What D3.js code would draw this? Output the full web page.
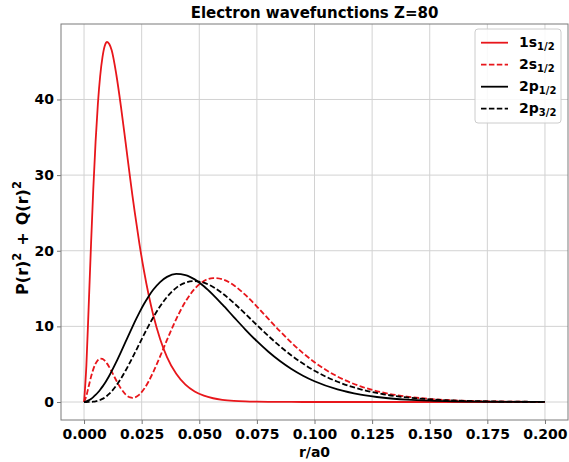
<!DOCTYPE html>
<html>
<head>
<meta charset="utf-8">
<script src="https://cdn.jsdelivr.net/npm/d3@7"></script>
<style>
  html, body { margin: 0; padding: 0; background: #fff; }
  svg { display: block; }
  text { font-family: "DejaVu Sans", sans-serif; font-weight: bold; fill: #000; }
</style>
</head>
<body>
<svg id="chart" width="569" height="462"></svg>
<script>
// r / a0 sample positions
const radius = [0, 0.001, 0.002, 0.003, 0.004, 0.005, 0.006, 0.007, 0.008, 0.009, 0.010, 0.011, 0.012,
  0.014, 0.016, 0.018, 0.020, 0.021, 0.022, 0.024, 0.026, 0.028, 0.030,
  0.033, 0.036, 0.040, 0.044, 0.048, 0.052, 0.056, 0.060,
  0.065, 0.070, 0.075, 0.080, 0.085, 0.090, 0.095, 0.100,
  0.110, 0.120, 0.130, 0.140, 0.150, 0.160, 0.170, 0.180, 0.190, 0.200];

const s1_12 = [0, 4.77, 12.53, 20.6, 28.1, 34.4, 39.4, 43.1, 45.6, 47.1, 47.6, 47.3, 46.5,
  43.3, 39.1, 34.4, 29.6, 27.3, 25.1, 20.98, 17.35, 14.21, 11.54,
  8.34, 5.94, 3.72, 2.29, 1.39, 0.835, 0.496, 0.293,
  0.150, 0.076, 0.038, 0.019, 0.0094, 0.0047, 0.0023, 0.0011,
  0.0003, 0.0001, 0, 0, 0, 0, 0, 0, 0, 0];

const s2_12 = [0, 0.801, 2.054, 3.286, 4.317, 5.074, 5.543, 5.741, 5.699, 5.463, 5.074, 4.577, 4.016,
  2.840, 1.785, 1.012, 0.608, 0.555, 0.603, 0.984, 1.709, 2.717, 3.940,
  6.021, 8.205, 10.963, 13.271, 14.964, 15.992, 16.387, 16.226,
  15.429, 14.161, 12.624, 10.985, 9.367, 7.845, 6.469, 5.264,
  3.363, 2.068, 1.231, 0.714, 0.405, 0.225, 0.123, 0.066, 0.035, 0.019];

const p2_12 = [0, 0.0726, 0.2164, 0.4098, 0.6476, 0.9285, 1.2528, 1.6208, 2.0318, 2.4858, 2.980, 3.5116, 4.0777,
  5.2959, 6.597, 7.940, 9.283, 9.943, 10.588, 11.821, 12.954, 13.964, 14.835,
  15.861, 16.541, 16.932, 16.791, 16.214, 15.309, 14.174, 12.896,
  11.231, 9.585, 8.036, 6.637, 5.409, 4.355, 3.469, 2.737,
  1.660, 0.978, 0.562, 0.3165, 0.1749, 0.0952, 0.0511, 0.0271, 0.0142, 0.0074];

const p2_32 = [0, 0.00025, 0.0033, 0.0145, 0.0401, 0.0869, 0.1613, 0.2686, 0.4133, 0.5988, 0.8271, 1.0995, 1.416,
  2.1758, 3.0907, 4.1333, 5.2709, 5.8643, 6.4683, 7.689, 8.8996, 10.0697, 11.1743,
  12.6574, 13.890, 15.094, 15.784, 15.99, 15.772, 15.208, 14.379,
  13.092, 11.654, 10.172, 8.729, 7.379, 6.156, 5.075, 4.139,
  2.679, 1.679, 1.025, 0.6116, 0.3578, 0.2058, 0.1167, 0.0652, 0.0360, 0.0197];

const seriesNames = [["1s", "1/2"], ["2s", "1/2"], ["2p", "1/2"], ["2p", "3/2"]];
const seriesValues = [s1_12, s2_12, p2_12, p2_32];
const seriesColors = ["#e8161b", "#e8161b", "#000000", "#000000"];
const seriesDashed = [false, true, false, true];

const xTicks = [0, 0.025, 0.05, 0.075, 0.1, 0.125, 0.15, 0.175, 0.2];
const yTicks = [0, 10, 20, 30, 40];
const titleText = "Electron wavefunctions Z=80";
const xLabel = "r/a0";

const L = 61, R = 568, T = 24, B = 420;
const svg = d3.select("#chart");

const xMin = d3.min(radius), xMax = d3.max(radius);
const xPad = 0.05 * (xMax - xMin);
const x = d3.scaleLinear().domain([xMin - xPad, xMax + xPad]).range([L, R]);
const allV = seriesValues.flat();
const yMin = d3.min(allV), yMax = d3.max(allV);
const yPad = 0.05 * (yMax - yMin);
const y = d3.scaleLinear().domain([yMin - yPad, yMax + yPad]).range([B, T]);

// grid
const grid = svg.append("g");
grid.selectAll("line.gx").data(xTicks).enter().append("line")
  .attr("x1", d => x(d)).attr("x2", d => x(d)).attr("y1", T).attr("y2", B)
  .attr("stroke", "#d2d2d2").attr("stroke-width", 1);
grid.selectAll("line.gy").data(yTicks).enter().append("line")
  .attr("y1", d => y(d)).attr("y2", d => y(d)).attr("x1", L).attr("x2", R)
  .attr("stroke", "#d2d2d2").attr("stroke-width", 1);

// axes
const xAxis = d3.axisBottom(x).tickValues(xTicks).tickFormat(d3.format(".3f")).tickSizeOuter(0).tickSize(4).tickPadding(5);
const yAxis = d3.axisLeft(y).tickValues(yTicks).tickFormat(d3.format("d")).tickSizeOuter(0).tickSize(4).tickPadding(3);
const gx = svg.append("g").attr("transform", `translate(0,${B})`).call(xAxis);
const gy = svg.append("g").attr("transform", `translate(${L},0)`).call(yAxis);
[gx, gy].forEach(g => {
  g.select(".domain").remove();
  g.selectAll(".tick line").attr("stroke", "#777");
  g.selectAll(".tick text").style("font-family", "DejaVu Sans").style("font-weight", "bold")
    .style("font-size", "14px").attr("fill", "#000");
});

// clip
svg.append("clipPath").attr("id", "clip").append("rect")
  .attr("x", L).attr("y", T).attr("width", R - L).attr("height", B - T);

const line = d3.line().x(d => x(d[0])).y(d => y(d[1])).curve(d3.curveMonotoneX);
const plot = svg.append("g").attr("clip-path", "url(#clip)");
seriesValues.forEach((vals, i) => {
  plot.append("path")
    .datum(radius.map((r, k) => [r, vals[k]]))
    .attr("d", line)
    .attr("fill", "none")
    .attr("stroke", seriesColors[i])
    .attr("stroke-width", 1.8)
    .attr("stroke-dasharray", seriesDashed[i] ? "5.5,2.4" : null);
});

// frame
svg.append("rect").attr("x", L).attr("y", T).attr("width", R - L).attr("height", B - T)
  .attr("fill", "none").attr("stroke", "#7a7a7a").attr("stroke-width", 1);

// title
svg.append("text").attr("x", (L + R) / 2).attr("y", 18).attr("text-anchor", "middle")
  .style("font-size", "15px").text(titleText);

// x label
svg.append("text").attr("x", (L + R) / 2).attr("y", 457).attr("text-anchor", "middle")
  .style("font-size", "14px").text(xLabel);

// y label
const yl = svg.append("text").attr("transform", `translate(28,238) rotate(-90)`)
  .attr("text-anchor", "middle").style("font-size", "16px");
yl.append("tspan").text("P(r)");
yl.append("tspan").attr("dy", -7).style("font-size", "11.5px").text("2");
yl.append("tspan").attr("dy", 7).attr("dx", 7).text("+");
yl.append("tspan").attr("dx", 7).text("Q(r)");
yl.append("tspan").attr("dy", -7).style("font-size", "11.5px").text("2");

// legend
const lgX = 475, lgY = 29, lgW = 86, lgH = 94, rowH = 22;
svg.append("rect").attr("x", lgX).attr("y", lgY).attr("width", lgW).attr("height", lgH)
  .attr("rx", 3).attr("fill", "#fff").attr("fill-opacity", 0.85)
  .attr("stroke", "#cccccc").attr("stroke-width", 1);
seriesNames.forEach((nm, i) => {
  const cy = lgY + 13.7 + i * rowH;
  svg.append("line").attr("x1", lgX + 6).attr("x2", lgX + 33).attr("y1", cy).attr("y2", cy)
    .attr("stroke", seriesColors[i]).attr("stroke-width", 1.8)
    .attr("stroke-dasharray", seriesDashed[i] ? "5.5,2.4" : null);
  const t = svg.append("text").attr("x", lgX + 44).attr("y", cy + 4.5).style("font-size", "14px");
  t.append("tspan").text(nm[0]);
  t.append("tspan").attr("dy", 3).style("font-size", "10px").text(nm[1]);
});
</script>
</body>
</html>
